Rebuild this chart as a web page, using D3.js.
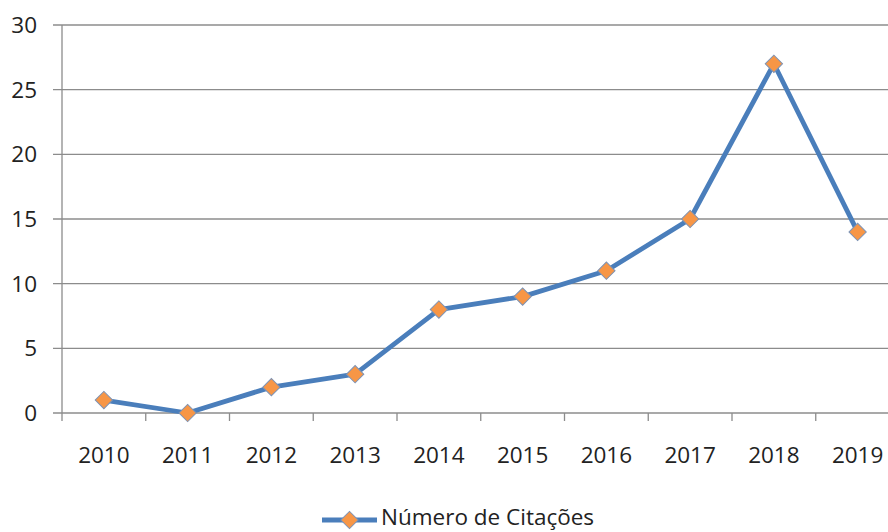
<!DOCTYPE html>
<html>
<head>
<meta charset="utf-8">
<script src="https://cdn.jsdelivr.net/npm/d3@7"></script>
<style>
  body { margin: 0; background: #fff; }
  svg { display: block; }
  text { font-family: "Open Sans", sans-serif; fill: #222; }
</style>
</head>
<body>
<svg width="888" height="532"></svg>
<script>
// chart data
const years = ["2010", "2011", "2012", "2013", "2014", "2015", "2016", "2017", "2018", "2019"];
const citations = [1, 0, 2, 3, 8, 9, 11, 15, 27, 14];
const yTicks = [0, 5, 10, 15, 20, 25, 30];
const seriesName = "Número de Citações";

const svg = d3.select("svg");
const margin = { top: 25, left: 62, bottom: 119 };
const height = 532 - margin.top - margin.bottom;
const fontSize = 22.5;

// category band of ~84px each, last one runs past the right edge
const x = d3.scaleBand()
    .domain(years)
    .range([margin.left, margin.left + 83.75 * years.length]);

const y = d3.scaleLinear()
    .domain([0, 30])
    .range([margin.top + height, margin.top]);

// horizontal gridlines
svg.append("g")
    .selectAll("line")
    .data(yTicks)
    .join("line")
    .attr("x1", margin.left - 9)
    .attr("x2", 888)
    .attr("y1", d => y(d))
    .attr("y2", d => y(d))
    .attr("stroke", "#8c8c8c")
    .attr("stroke-width", 1.3);

// y-axis labels
svg.append("g")
    .selectAll("text")
    .data(yTicks)
    .join("text")
    .attr("x", 37)
    .attr("y", d => y(d))
    .attr("dy", "0.36em")
    .attr("text-anchor", "end")
    .attr("font-size", fontSize)
    .text(d => d);

// y-axis line
svg.append("line")
    .attr("x1", margin.left).attr("x2", margin.left)
    .attr("y1", y(30)).attr("y2", y(0) + 8)
    .attr("stroke", "#8c8c8c")
    .attr("stroke-width", 1.3);

// x tick marks between categories
svg.append("g")
    .selectAll("line")
    .data(years.slice(1))
    .join("line")
    .attr("x1", d => x(d))
    .attr("x2", d => x(d))
    .attr("y1", y(0))
    .attr("y2", y(0) + 8)
    .attr("stroke", "#8c8c8c")
    .attr("stroke-width", 1.3);

// x labels
svg.append("g")
    .selectAll("text")
    .data(years)
    .join("text")
    .attr("x", d => x(d) + x.bandwidth() / 2)
    .attr("y", y(0) + 50)
    .attr("text-anchor", "middle")
    .attr("font-size", fontSize)
    .text(d => d);

const pts = years.map((yr, i) => ({ year: yr, value: citations[i] }));

const line = d3.line()
    .x(d => x(d.year) + x.bandwidth() / 2)
    .y(d => y(d.value));

svg.append("path")
    .datum(pts)
    .attr("fill", "none")
    .attr("stroke", "#4a7ebb")
    .attr("stroke-width", 4.8)
    .attr("stroke-linejoin", "round")
    .attr("d", line);

const diamond = d3.symbol().type(d3.symbolSquare).size(150);

svg.append("g")
    .selectAll("path")
    .data(pts)
    .join("path")
    .attr("d", diamond)
    .attr("transform", d => `translate(${x(d.year) + x.bandwidth() / 2},${y(d.value)}) rotate(45)`)
    .attr("fill", "#f79646")
    .attr("stroke", "#7d93b5")
    .attr("stroke-width", 1);

// legend
const lg = svg.append("g").attr("transform", "translate(322,520)");
lg.append("line")
    .attr("x1", 0).attr("x2", 55)
    .attr("stroke", "#4a7ebb")
    .attr("stroke-width", 4.8);
lg.append("path")
    .attr("d", diamond)
    .attr("transform", "translate(27.5,0) rotate(45)")
    .attr("fill", "#f79646")
    .attr("stroke", "#7d93b5")
    .attr("stroke-width", 1);
lg.append("text")
    .attr("x", 59)
    .attr("y", 5)
    .attr("font-size", fontSize)
    .text(seriesName);
</script>
</body>
</html>
